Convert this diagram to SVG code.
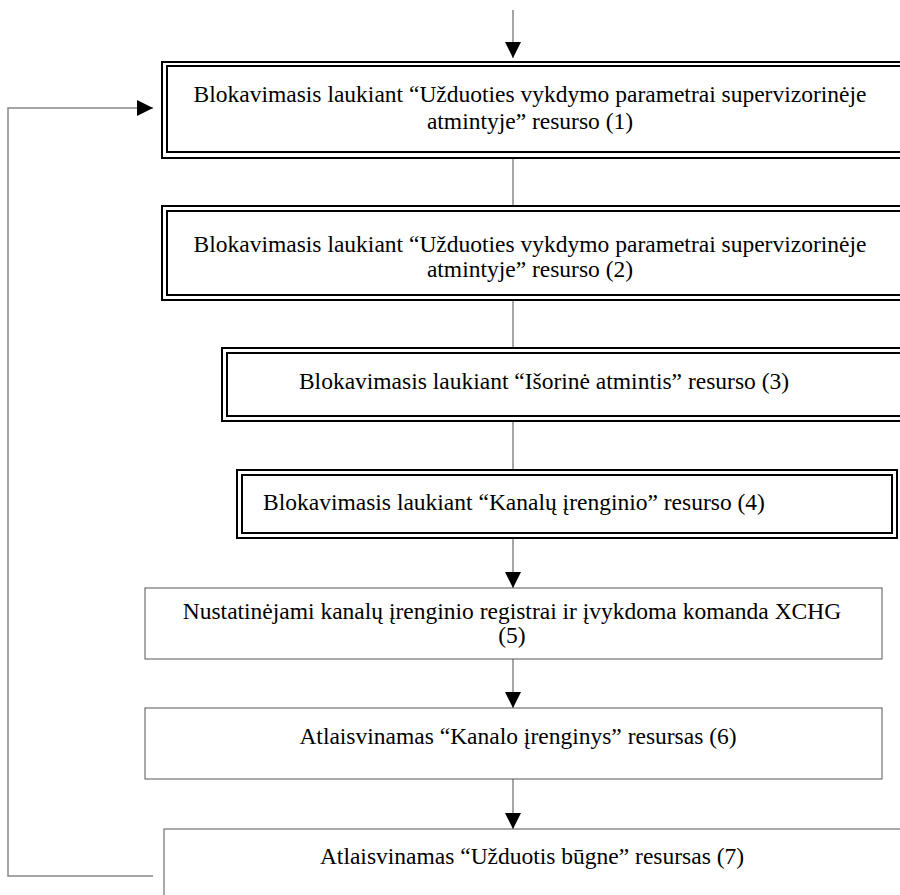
<svg xmlns="http://www.w3.org/2000/svg" width="900" height="895" viewBox="0 0 900 895">
<style>
.t{font-family:"Liberation Serif","Times New Roman",serif;font-size:23.5px;fill:#000;text-anchor:middle}
.dbl{fill:none;stroke:#000;stroke-width:2}
.sgl{fill:#fff;stroke:#555;stroke-width:1}
.c{fill:none;stroke:#888;stroke-width:1.5}
</style>
<defs>
<marker id="ah" markerWidth="16" markerHeight="16" refX="16" refY="8" orient="auto" markerUnits="userSpaceOnUse">
<path d="M0,0 L16,8 L0,16 Z" fill="#000"/>
</marker>
</defs>
<rect width="900" height="895" fill="#fff"/>
<g id="connectors">
<line class="c" x1="513" y1="10" x2="513" y2="58" marker-end="url(#ah)"/>
<line class="c" x1="513" y1="158" x2="513" y2="205"/>
<line class="c" x1="513" y1="300" x2="513" y2="348"/>
<line class="c" x1="513" y1="421" x2="513" y2="470"/>
<line class="c" x1="513" y1="539" x2="513" y2="588" marker-end="url(#ah)"/>
<line class="c" x1="513" y1="659" x2="513" y2="708" marker-end="url(#ah)"/>
<line class="c" x1="513" y1="779" x2="513" y2="829" marker-end="url(#ah)"/>
<polyline class="c" points="153,876 8,876 8,108 153,108" marker-end="url(#ah)"/>
</g>
<g id="n1">
<rect class="dbl" x="162" y="62" width="740" height="96"/>
<rect class="dbl" x="167" y="66" width="740" height="86"/>
<text class="t" x="530" y="102">Blokavimasis laukiant “Užduoties vykdymo parametrai supervizorinėje</text>
<text class="t" x="530" y="129">atmintyje” resurso (1)</text>
</g>
<g id="n2">
<rect class="dbl" x="162" y="206" width="740" height="94"/>
<rect class="dbl" x="167" y="211" width="740" height="84"/>
<text class="t" x="530" y="252">Blokavimasis laukiant “Užduoties vykdymo parametrai supervizorinėje</text>
<text class="t" x="530" y="277">atmintyje” resurso (2)</text>
</g>
<g id="n3">
<rect class="dbl" x="222" y="348" width="680" height="73"/>
<rect class="dbl" x="227" y="353" width="680" height="63"/>
<text class="t" x="544" y="389">Blokavimasis laukiant “Išorinė atmintis” resurso (3)</text>
</g>
<g id="n4">
<rect class="dbl" x="237" y="470" width="660" height="68"/>
<rect class="dbl" x="242" y="475" width="650" height="58"/>
<text class="t" x="514" y="510">Blokavimasis laukiant “Kanalų įrenginio” resurso (4)</text>
</g>
<g id="n5">
<rect class="sgl" x="145" y="588" width="737" height="71"/>
<text class="t" x="512" y="619">Nustatinėjami kanalų įrenginio registrai ir įvykdoma komanda XCHG</text>
<text class="t" x="512" y="643">(5)</text>
</g>
<g id="n6">
<rect class="sgl" x="145" y="708" width="737" height="71"/>
<text class="t" x="518" y="744">Atlaisvinamas “Kanalo įrenginys” resursas (6)</text>
</g>
<g id="n7">
<rect class="sgl" x="164" y="829" width="740" height="80"/>
<text class="t" x="532" y="864">Atlaisvinamas “Užduotis būgne” resursas (7)</text>
</g>
</svg>
